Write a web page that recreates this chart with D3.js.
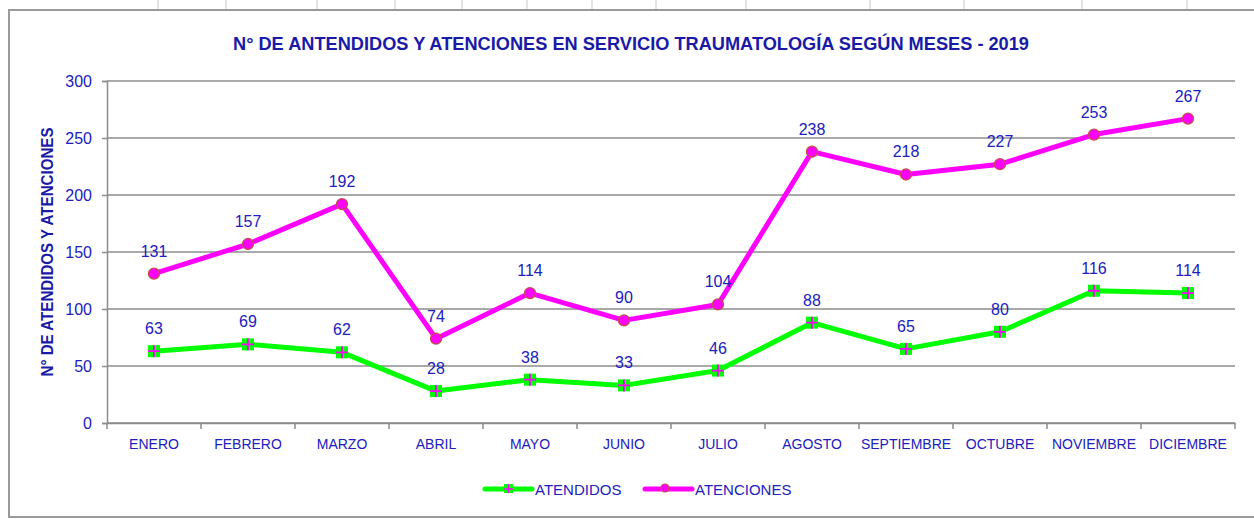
<!DOCTYPE html>
<html>
<head>
<meta charset="utf-8">
<script src="https://cdn.jsdelivr.net/npm/d3@7"></script>
<style>
  body { margin: 0; background: #fff; }
  svg { display: block; }
  text { font-family: "Liberation Sans", Arial, sans-serif; }
</style>
</head>
<body>
<svg id="chart" width="1254" height="519"></svg>
<script>
// data
const months = ["ENERO","FEBRERO","MARZO","ABRIL","MAYO","JUNIO","JULIO","AGOSTO","SEPTIEMBRE","OCTUBRE","NOVIEMBRE","DICIEMBRE"];
const atendidos = [63,69,62,28,38,33,46,88,65,80,116,114];
const atenciones = [131,157,192,74,114,90,104,238,218,227,253,267];
const yTicks = [0,50,100,150,200,250,300];
const sheetCols = [158,226,317,395,462,527,592,656,746,870,964,1082,1187];

const blue = "#2020c0";
const narrow = "'Liberation Sans Narrow', 'Liberation Sans', Arial, sans-serif";
const svg = d3.select("#chart");
const margin = {left:107, right:1235, top:81, bottom:423};

// spreadsheet grid bits and chart frame
sheetCols.forEach(x => {
  svg.append("line").attr("x1",x).attr("x2",x).attr("y1",0).attr("y2",10)
    .attr("stroke","#c8c8c8").attr("stroke-width",1);
});
svg.append("rect").attr("x",9).attr("y",10).attr("width",1260).attr("height",507)
  .attr("fill","#fff").attr("stroke","#9a9a9a").attr("stroke-width",2);

const x = d3.scaleBand().domain(months).range([margin.left, margin.right]);
const y = d3.scaleLinear().domain([0,300]).range([margin.bottom, margin.top]);

// gridlines
svg.append("g").selectAll("line").data(yTicks).join("line")
  .attr("x1",margin.left).attr("x2",margin.right)
  .attr("y1",d=>y(d)).attr("y2",d=>y(d))
  .attr("stroke","#8c8c8c").attr("stroke-width",1.5);

// y axis
const yAxis = svg.append("g").attr("transform",`translate(${margin.left},0)`)
  .call(d3.axisLeft(y).tickValues(yTicks).tickSize(5).tickPadding(10));
yAxis.select(".domain").attr("stroke","#8c8c8c").attr("stroke-width",1.5);
yAxis.selectAll(".tick line").attr("stroke","#8c8c8c").attr("stroke-width",1.5);
yAxis.selectAll("text").attr("fill",blue).attr("font-size",16)
  .attr("font-family","'Liberation Sans', Arial, sans-serif");

// x axis
const xAxis = svg.append("g").attr("transform",`translate(0,${margin.bottom})`)
  .call(d3.axisBottom(x).tickSize(0).tickPadding(16));
xAxis.select(".domain").attr("stroke","#8c8c8c").attr("stroke-width",1.5);
xAxis.selectAll("text").attr("fill",blue).attr("font-size",14)
  .attr("font-family","'Liberation Sans', Arial, sans-serif");
svg.append("g").selectAll("line").data(d3.range(months.length+1)).join("line")
  .attr("x1",i=>margin.left + i*x.bandwidth()).attr("x2",i=>margin.left + i*x.bandwidth())
  .attr("y1",margin.bottom).attr("y2",margin.bottom+6)
  .attr("stroke","#8c8c8c").attr("stroke-width",1.5);

// title
svg.append("text").attr("x",631).attr("y",50).attr("text-anchor","middle")
  .attr("fill","#1a1aa8").attr("font-weight","bold").attr("font-size",19)
  .attr("font-family",narrow)
  .attr("textLength",796).attr("lengthAdjust","spacingAndGlyphs")
  .text("N° DE ANTENDIDOS Y ATENCIONES EN SERVICIO TRAUMATOLOGÍA SEGÚN MESES - 2019");

svg.append("text").attr("transform","translate(53,252) rotate(-90)")
  .attr("text-anchor","middle").attr("fill","#1a1aa8").attr("font-weight","bold")
  .attr("font-family",narrow)
  .attr("font-size",17).attr("textLength",249).attr("lengthAdjust","spacingAndGlyphs")
  .text("N° DE ATENDIDOS Y ATENCIONES");

const cx = m => x(m) + x.bandwidth()/2;
const line = d3.line().x((d,i)=>cx(months[i])).y(d=>y(d));

function drawSeries(vals, color, marker) {
  svg.append("path").datum(vals).attr("d",line).attr("fill","none")
    .attr("stroke",color).attr("stroke-width",5).attr("stroke-linejoin","round");
  const g = svg.append("g");
  vals.forEach((v,i) => marker(g, cx(months[i]), y(v)));
  svg.append("g").selectAll("text").data(vals).join("text")
    .attr("x",(d,i)=>cx(months[i])).attr("y",d=>y(d)-17)
    .attr("text-anchor","middle").attr("fill",blue).attr("font-size",16)
    .text(d=>d);
}

function squareMarker(g, px, py) {
  g.append("rect").attr("x",px-6).attr("y",py-6).attr("width",12).attr("height",12)
    .attr("fill","#00ff00");
  g.append("path").attr("d",`M${px-6},${py}H${px+6}M${px},${py-6}V${py+6}`)
    .attr("stroke","#ff00ff").attr("stroke-width",1.8);
}
function circleMarker(g, px, py) {
  g.append("circle").attr("cx",px).attr("cy",py).attr("r",5.5)
    .attr("fill","#ff00ff").attr("stroke","#c0504d").attr("stroke-width",1.3);
}

drawSeries(atendidos, "#00ff00", squareMarker);
drawSeries(atenciones, "#ff00ff", circleMarker);

// legend
const legend = [
  {name:"ATENDIDOS", color:"#00ff00", marker:squareMarker, x:485},
  {name:"ATENCIONES", color:"#ff00ff", marker:circleMarker, x:645}
];
legend.forEach(l => {
  svg.append("line").attr("x1",l.x).attr("x2",l.x+47).attr("y1",489).attr("y2",489)
    .attr("stroke",l.color).attr("stroke-width",5).attr("stroke-linecap","round");
  const g = svg.append("g");
  if (l.marker === squareMarker) {
    g.append("rect").attr("x",l.x+19).attr("y",484).attr("width",9).attr("height",9).attr("fill","#00ff00");
    g.append("path").attr("d",`M${l.x+19},${489}H${l.x+28}M${l.x+23.5},484V493`)
      .attr("stroke","#ff00ff").attr("stroke-width",1.5);
  } else {
    g.append("circle").attr("cx",l.x+20).attr("cy",488).attr("r",4)
      .attr("fill","#ff00ff").attr("stroke","#c0504d").attr("stroke-width",1.2);
  }
  svg.append("text").attr("x",l.x+50).attr("y",495).attr("fill",blue)
    .attr("font-size",15).text(l.name);
});
</script>
</body>
</html>
